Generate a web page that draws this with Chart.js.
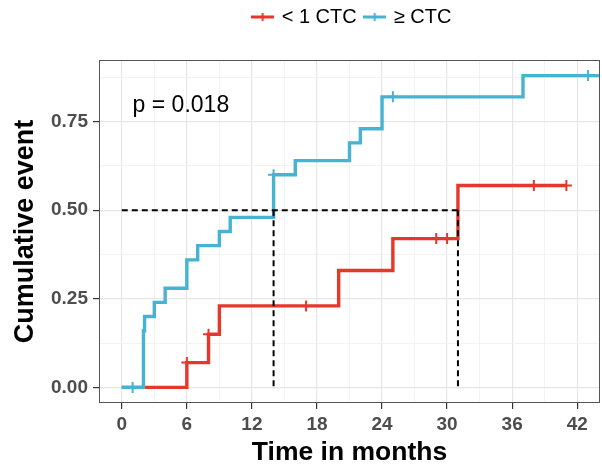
<!DOCTYPE html>
<html>
<head>
<meta charset="utf-8">
<script src="https://cdn.jsdelivr.net/npm/chart.js@4.4.1/dist/chart.umd.min.js"></script>
<style>
  html, body { margin: 0; padding: 0; background: #fff; overflow: hidden; }
  #wrap { width: 602px; height: 465px; }
</style>
</head>
<body>
<div id="wrap"><canvas id="km"></canvas></div>
<script>
const groupNames = ["< 1 CTC", "\u2265 CTC"];
const groupColors = ["#E5372C", "#46B3D2"];

// < 1 CTC : step points (time, cumulative event) and censor marks
const lowTimes = [0, 6, 8, 9, 20, 25, 31, 41];
const lowCum = [0, 0.07, 0.15, 0.23, 0.33, 0.42, 0.57, 0.57];
const lowCensorTimes = [6, 8, 17, 29, 30, 38, 41];
const lowCensorCum = [0.07, 0.15, 0.23, 0.42, 0.42, 0.57, 0.57];

// >= CTC
const highTimes = [0, 2, 2.1, 3, 4, 6, 7, 9, 10, 14, 16, 21, 22, 24, 37, 44];
const highCum = [0, 0.16, 0.2, 0.24, 0.28, 0.36, 0.4, 0.44, 0.48, 0.6, 0.64, 0.69, 0.73, 0.82, 0.88, 0.88];
const highCensorTimes = [1, 14, 25, 43];
const highCensorCum = [0, 0.6, 0.82, 0.88];

// median survival lines
const medianTimes = [14, 31];
const medianLevel = 0.5;

const xTicks = [0, 3, 6, 9, 12, 15, 18, 21, 24, 27, 30, 33, 36, 39, 42];
const xTickLabels = ["0", "", "6", "", "12", "", "18", "", "24", "", "30", "", "36", "", "42"];
const yTicks = [0, 0.125, 0.25, 0.375, 0.5, 0.625, 0.75, 0.875];
const yTickLabels = ["0.00", "", "0.25", "", "0.50", "", "0.75", ""];

const pText = "p = 0.018";
const xTitle = "Time in months";
const yTitle = "Cumulative event";

const FONT = "'Liberation Sans', Arial, Helvetica, sans-serif";

const pts = (xs, ys) => xs.map((x, i) => ({ x, y: ys[i] }));

function legendSymbol(color) {
  const c = document.createElement("canvas");
  c.width = 23;
  c.height = 12;
  const g = c.getContext("2d");
  g.strokeStyle = color;
  g.lineWidth = 3;
  g.beginPath();
  g.moveTo(0, 6);
  g.lineTo(23, 6);
  g.stroke();
  g.lineWidth = 2;
  g.beginPath();
  g.moveTo(11.5, 2);
  g.lineTo(11.5, 10);
  g.stroke();
  return c;
}
const symbols = groupColors.map(legendSymbol);

const isMajorX = (v) => v % 6 === 0;
const isMajorY = (v) => Math.abs(v * 4 - Math.round(v * 4)) < 1e-6;

const dashed = {
  borderColor: "#000",
  borderWidth: 2,
  borderDash: [6, 4],
  pointRadius: 0,
  fill: false,
  order: 0,
};

const medianEnd = Math.max(...medianTimes);

// room under the legend, legend nudged a little
const legendGap = {
  id: "legendGap",
  beforeInit(chart) {
    const fit = chart.legend.fit;
    chart.legend.fit = function () {
      fit.call(this);
      this.height += 21;
    };
  },
  afterLayout(chart) {
    const lg = chart.legend;
    lg.top -= 2;
    lg.bottom -= 2;
    lg.left += 3;
    lg.right += 3;
  },
};

const panelExtras = {
  id: "panelExtras",
  afterDraw(chart) {
    const { ctx, chartArea: a, scales } = chart;
    ctx.save();
    ctx.strokeStyle = "#555";
    ctx.lineWidth = 1;
    ctx.strokeRect(a.left + 0.5, a.top + 0.5, a.right - a.left - 1, a.bottom - a.top - 1);
    ctx.fillStyle = "#000";
    ctx.font = "23px " + FONT;
    ctx.textAlign = "left";
    ctx.textBaseline = "middle";
    ctx.fillText(pText, scales.x.getPixelForValue(1), scales.y.getPixelForValue(0.795));
    ctx.restore();
  },
};

new Chart(document.getElementById("km"), {
  type: "line",
  data: {
    datasets: [
      { ...dashed, label: "m0", data: [{ x: 0, y: medianLevel }, { x: medianEnd, y: medianLevel }] },
      { ...dashed, label: "m1", data: [{ x: medianTimes[0], y: medianLevel }, { x: medianTimes[0], y: 0 }] },
      { ...dashed, label: "m2", data: [{ x: medianTimes[1], y: medianLevel }, { x: medianTimes[1], y: 0 }] },
      {
        label: groupNames[1] + " censor",
        data: pts(highCensorTimes, highCensorCum),
        showLine: false,
        pointStyle: "cross",
        pointRadius: 5.5,
        pointBorderWidth: 2,
        borderColor: groupColors[1],
        order: 1,
      },
      {
        label: groupNames[1],
        data: pts(highTimes, highCum),
        stepped: "before",
        borderColor: groupColors[1],
        borderWidth: 3.4,
        pointRadius: 0,
        fill: false,
        order: 2,
      },
      {
        label: groupNames[0] + " censor",
        data: pts(lowCensorTimes, lowCensorCum),
        showLine: false,
        pointStyle: "cross",
        pointRadius: 5.5,
        pointBorderWidth: 2,
        borderColor: groupColors[0],
        order: 3,
      },
      {
        label: groupNames[0],
        data: pts(lowTimes, lowCum),
        stepped: "before",
        borderColor: groupColors[0],
        borderWidth: 3.4,
        pointRadius: 0,
        fill: false,
        order: 4,
      },
    ],
  },
  options: {
    responsive: true,
    maintainAspectRatio: false,
    animation: false,
    events: [],
    layout: { autoPadding: false, padding: { left: 0, right: 2, top: 0, bottom: 0 } },
    plugins: {
      tooltip: { enabled: false },
      legend: {
        position: "top",
        fullSize: false,
        labels: {
          usePointStyle: true,
          pointStyleWidth: 18,
          padding: 9,
          color: "#000",
          font: { family: FONT, size: 20 },
          generateLabels: () =>
            groupNames.map((name, i) => ({
              text: name,
              pointStyle: symbols[i],
              fillStyle: groupColors[i],
              strokeStyle: groupColors[i],
              lineWidth: 0,
              hidden: false,
              fontColor: "#000",
            })),
        },
      },
    },
    scales: {
      x: {
        type: "linear",
        min: -2.1,
        max: 44.1,
        afterBuildTicks: (scale) => {
          scale.ticks = xTicks.map((v) => ({ value: v }));
        },
        afterFit: (scale) => {
          scale.height = 62;
        },
        ticks: {
          autoSkip: false,
          maxRotation: 0,
          padding: 4,
          color: "#4D4D4D",
          font: { family: FONT, size: 19, weight: "bold" },
          callback: (v, i) => xTickLabels[i],
        },
        grid: {
          color: (c) => (c.tick && isMajorX(c.tick.value) ? "#E6E6E6" : "#F0F0F0"),
          lineWidth: (c) => (c.tick && isMajorX(c.tick.value) ? 1.2 : 0.8),
          tickColor: (c) => (c.tick && isMajorX(c.tick.value) ? "#333" : "rgba(0,0,0,0)"),
          tickLength: 6,
          tickWidth: 1.2,
        },
        border: { display: false },
        title: {
          display: true,
          text: xTitle,
          color: "#000",
          font: { family: FONT, size: 26.5, weight: "bold", lineHeight: 0.95 },
          padding: { top: 0, bottom: 0 },
        },
      },
      y: {
        type: "linear",
        min: -0.044,
        max: 0.924,
        afterBuildTicks: (scale) => {
          scale.ticks = yTicks.map((v) => ({ value: v }));
        },
        afterFit: (scale) => {
          scale.width = 99;
        },
        ticks: {
          autoSkip: false,
          padding: 5,
          color: "#4D4D4D",
          font: { family: FONT, size: 19, weight: "bold" },
          callback: (v, i) => yTickLabels[i],
        },
        grid: {
          color: (c) => (c.tick && isMajorY(c.tick.value) ? "#E6E6E6" : "#F0F0F0"),
          lineWidth: (c) => (c.tick && isMajorY(c.tick.value) ? 1.2 : 0.8),
          tickColor: (c) => (c.tick && isMajorY(c.tick.value) ? "#333" : "rgba(0,0,0,0)"),
          tickLength: 6,
          tickWidth: 1.2,
        },
        border: { display: false },
        title: {
          display: true,
          text: yTitle,
          color: "#000",
          font: { family: FONT, size: 27, weight: "bold", lineHeight: 1 },
          padding: { top: 12, bottom: 0 },
        },
      },
    },
  },
  plugins: [legendGap, panelExtras],
});
</script>
</body>
</html>
